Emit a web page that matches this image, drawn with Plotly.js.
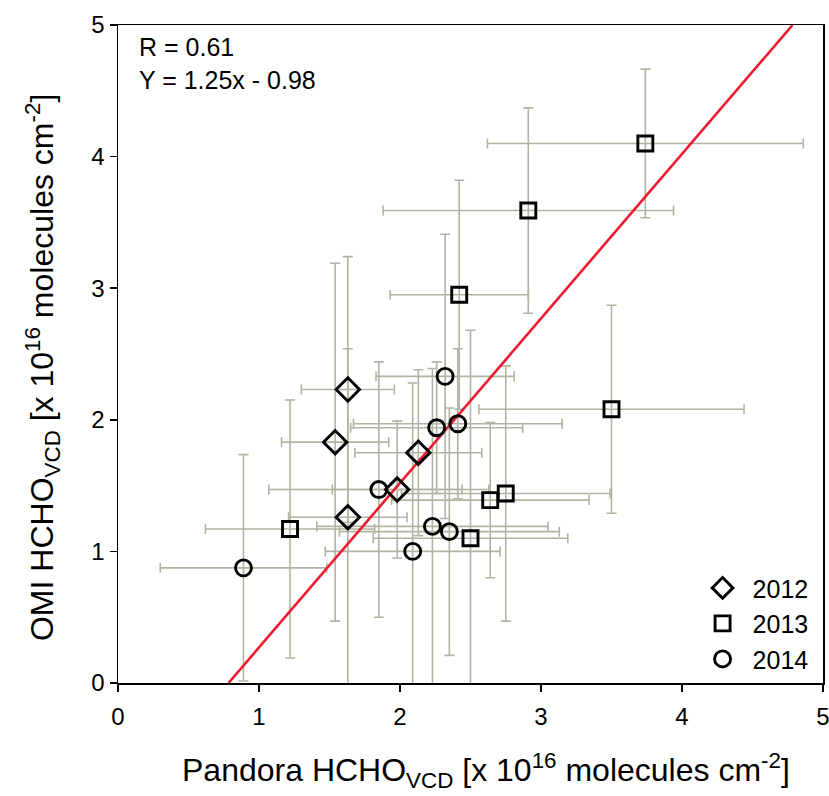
<!DOCTYPE html>
<html>
<head>
<meta charset="utf-8">
<script src="https://cdn.plot.ly/plotly-3.0.1.min.js"></script>
<style>html,body{margin:0;padding:0;background:#fff;}#chart{width:829px;height:796px;}</style>
</head>
<body>
<div id="chart"></div>
<script>
// 2012 (diamonds)
const x2012 = [1.63, 1.54, 2.13, 1.98, 1.63];
const y2012 = [2.23, 1.83, 1.75, 1.47, 1.26];
const ex2012 = [0.33, 0.38, 0.45, 0.46, 0.42];
const ey2012 = [1.01, 1.36, 0.63, 0.52, 1.28];
// 2013 (squares)
const x2013 = [3.74, 2.91, 2.42, 3.50, 2.75, 2.64, 1.22, 2.50];
const y2013 = [4.10, 3.59, 2.95, 2.08, 1.44, 1.39, 1.17, 1.10];
const ex2013 = [1.12, 1.03, 0.49, 0.94, 0.74, 0.70, 0.60, 0.69];
const ey2013 = [0.565, 0.78, 0.87, 0.79, 0.97, 0.59, 0.98, 1.58];
// 2014 (circles)
const x2014 = [0.89, 1.85, 2.32, 2.26, 2.41, 2.23, 2.35, 2.09];
const y2014 = [0.875, 1.47, 2.33, 1.94, 1.97, 1.19, 1.15, 1.00];
const ex2014 = [0.59, 0.78, 0.49, 0.61, 0.74, 0.82, 0.78, 0.62];
const ey2014 = [0.86, 0.97, 1.08, 0.50, 0.57, 1.20, 0.94, 1.28];
// regression
const slope = 1.25, intercept = -0.98;
const fitX = [(0 - intercept) / slope, (5 - intercept) / slope];
const fitY = fitX.map(v => slope * v + intercept);
const tickVals = [0, 1, 2, 3, 4, 5];
const tickText = ['0', '1', '2', '3', '4', '5'];

const errColor = '#b3b3a3';
const font = 'Liberation Sans, Arial, sans-serif';

function errTrace(x, y, ex, ey) {
  return {
    x: x, y: y, type: 'scatter', mode: 'markers', showlegend: false, hoverinfo: 'skip',
    marker: {size: 1, color: 'rgba(0,0,0,0)'},
    error_x: {type: 'data', array: ex, visible: true, color: errColor, thickness: 1.6, width: 5},
    error_y: {type: 'data', array: ey, visible: true, color: errColor, thickness: 1.6, width: 5}
  };
}
function markTrace(x, y, name, symbol, size) {
  return {
    x: x, y: y, type: 'scatter', mode: 'markers', name: name, legendgroup: name,
    marker: {symbol: symbol, size: size, color: '#000', line: {color: '#000', width: 2.9}}
  };
}

const data = [
  errTrace(x2012, y2012, ex2012, ey2012),
  errTrace(x2013, y2013, ex2013, ey2013),
  errTrace(x2014, y2014, ex2014, ey2014),
  {x: fitX, y: fitY, type: 'scatter', mode: 'lines', showlegend: false,
   line: {color: '#ec1c2e', width: 2.6}},
  markTrace(x2012, y2012, '2012', 'diamond-open', 18),
  markTrace(x2013, y2013, '2013', 'square-open', 15),
  markTrace(x2014, y2014, '2014', 'circle-open', 16)
];

const axisCommon = {
  range: [0, 5], tickvals: tickVals, ticktext: tickText, ticklabeloverflow: 'allow',
  showgrid: false, zeroline: false, showline: true, mirror: true, linecolor: '#000', linewidth: 1.5,
  ticks: 'outside', ticklen: 7, tickwidth: 1.5, tickcolor: '#000',
  tickfont: {size: 24, family: font}
};

const layout = {
  width: 829, height: 796,
  margin: {l: 118, r: 6, t: 25, b: 113},
  paper_bgcolor: '#fff', plot_bgcolor: '#fff',
  font: {family: font, color: '#000', size: 24},
  showlegend: true,
  legend: {x: 0.815, y: 0.0013, xanchor: 'left', yanchor: 'bottom', bgcolor: 'rgba(0,0,0,0)',
           font: {size: 25, family: font}, traceorder: 'grouped', tracegroupgap: 0, itemwidth: 50},
  xaxis: Object.assign({}, axisCommon, {ticklabelstandoff: 5}),
  yaxis: Object.assign({}, axisCommon),
  annotations: [
    {text: 'R = 0.61', xref: 'paper', yref: 'paper', x: 0.027, y: 0.9666, xanchor: 'left', yanchor: 'middle',
     showarrow: false, font: {size: 25, family: font}},
    {text: 'Y = 1.25x - 0.98', xref: 'paper', yref: 'paper', x: 0.027, y: 0.9164, xanchor: 'left', yanchor: 'middle',
     showarrow: false, font: {size: 25, family: font}},
    {text: 'Pandora HCHO<sub>VCD</sub> [x 10<sup>16</sup> molecules cm<sup>-2</sup>]',
     xref: 'paper', yref: 'paper', x: 0.522, y: -0.133, xanchor: 'center', yanchor: 'middle',
     showarrow: false, font: {size: 32, family: font}},
    {text: 'OMI HCHO<sub>VCD</sub> [x 10<sup>16</sup> molecules cm<sup>-2</sup>]',
     xref: 'paper', yref: 'paper', x: -0.108, y: 0.48, xanchor: 'center', yanchor: 'middle', textangle: -90,
     showarrow: false, font: {size: 32, family: font}}
  ]
};

Plotly.newPlot('chart', data, layout, {displayModeBar: false, staticPlot: true});
</script>
</body>
</html>
